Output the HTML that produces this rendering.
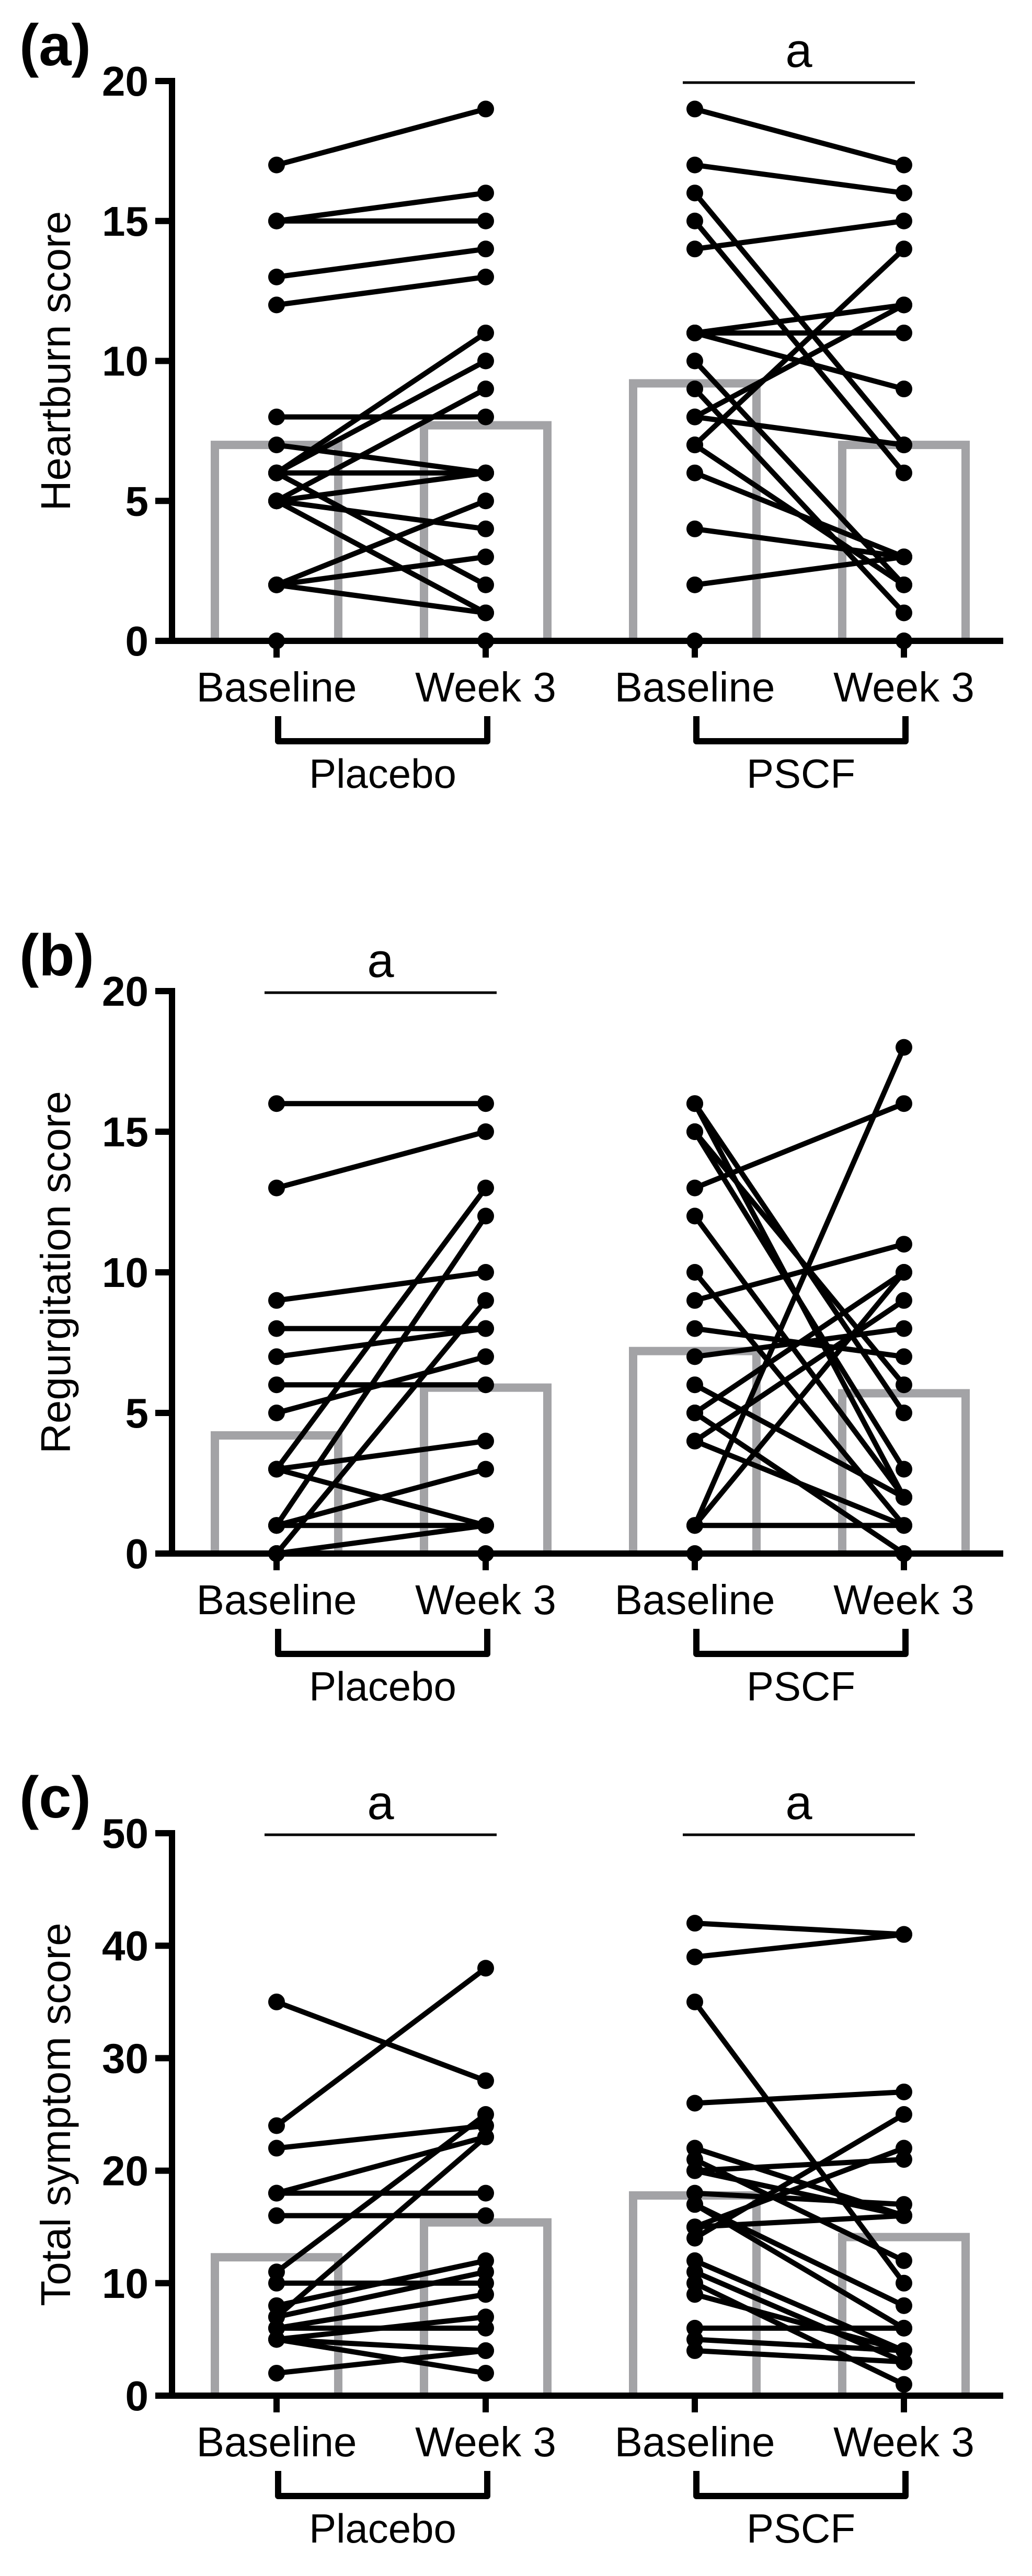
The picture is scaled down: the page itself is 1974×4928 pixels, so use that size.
<!DOCTYPE html>
<html><head><meta charset="utf-8">
<style>
html,body{margin:0;padding:0;background:#fff;}
svg{display:block;}
text{font-family:"Liberation Sans",Arial,sans-serif;fill:#000;}
</style></head>
<body>
<svg id="fig" width="1974" height="4928" viewBox="0 0 1974 4928" xmlns="http://www.w3.org/2000/svg"></svg>
<script>
// ---- data ----
const categories = ["Baseline", "Week 3", "Baseline", "Week 3"];
const groups = ["Placebo", "PSCF"];
const panelLetters = ["(a)", "(b)", "(c)"];
const yTitles = ["Heartburn score", "Regurgitation score", "Total symptom score"];
const yMax = [20, 20, 50];
const yTicksA = [0, 5, 10, 15, 20];
const yTicksB = [0, 5, 10, 15, 20];
const yTicksC = [0, 10, 20, 30, 40, 50];
// bar means [placebo baseline, placebo week3, pscf baseline, pscf week3]
const meansA = [7.0, 7.7, 9.2, 7.0];
const meansB = [4.2, 5.9, 7.2, 5.7];
const meansC = [12.3, 15.4, 17.8, 14.1];
// paired values [baseline, week3]
const placeboA = [[17,19],[15,16],[15,15],[13,14],[12,13],[8,8],[7,6],[6,6],[6,11],[6,10],[5,9],[5,6],[5,4],[6,2],[5,1],[2,5],[2,3],[2,1],[0,0]];
const pscfA = [[19,17],[17,16],[16,7],[15,6],[14,15],[11,12],[11,11],[11,9],[10,2],[9,1],[8,7],[8,12],[7,14],[7,2],[6,3],[4,3],[2,3],[0,0]];
const placeboB = [[16,16],[13,15],[9,10],[8,8],[7,8],[6,6],[5,7],[3,13],[1,12],[0,9],[3,4],[3,1],[1,3],[1,1],[0,1],[0,0]];
const pscfB = [[16,5],[16,2],[15,3],[15,6],[13,16],[12,2],[10,1],[9,11],[8,7],[7,8],[6,2],[5,0],[5,10],[4,1],[4,9],[1,18],[1,10],[1,1],[0,0]];
const placeboC = [[35,28],[24,38],[22,24],[18,23],[18,18],[16,16],[11,25],[7,23],[10,10],[8,12],[7,11],[6,9],[5,7],[6,6],[5,4],[5,2],[2,4]];
const pscfC = [[42,41],[39,41],[35,10],[26,27],[22,16],[21,12],[20,21],[18,17],[17,6],[17,8],[15,22],[14,25],[15,16],[12,4],[11,3],[10,1],[9,4],[6,6],[5,4],[4,3],[20,16]];
const sigA = [false, true];
const sigB = [true, false];
const sigC = [true, true];

// ---- layout ----
const NS = "http://www.w3.org/2000/svg";
const svg = document.getElementById("fig");
const axisX = 329, axisRight = 1919, catX0 = 529, catStep = 400;
const panels = [
  {y0:1226, yTop:155, max:yMax[0], ticks:yTicksA, means:meansA, pl:placeboA, ps:pscfA, sig:sigA},
  {y0:2972, yTop:1896, max:yMax[1], ticks:yTicksB, means:meansB, pl:placeboB, ps:pscfB, sig:sigB},
  {y0:4583, yTop:3507, max:yMax[2], ticks:yTicksC, means:meansC, pl:placeboC, ps:pscfC, sig:sigC}
];
function mk(tag, attrs, parent){
  const e = document.createElementNS(NS, tag);
  for (const k in attrs) e.setAttribute(k, attrs[k]);
  (parent||svg).appendChild(e);
  return e;
}
function xCat(i){ return catX0 + i*catStep; }

panels.forEach((p, pi) => {
  const yS = v => p.y0 - (v / p.max) * (p.y0 - p.yTop);
  const g = mk("g", {});
  
  

  const pl = mk("text", {x:37, y:p.yTop-30, "font-size":112, "font-weight":"bold"}, g);
  pl.textContent = panelLetters[pi];
  
  

  const yc = (p.y0 + p.yTop)/2;
  const yt = mk("text", {transform:`translate(134,${yc}) rotate(-90)`, "text-anchor":"middle", "font-size":80}, g);
  yt.textContent = yTitles[pi];
  
  

  p.means.forEach((m, i) => {
    const y = yS(m);
    const b = mk("path", {d:`M${xCat(i)-118},${p.y0} V${y} H${xCat(i)+118} V${p.y0}`, fill:"none", stroke:"#a3a3a6", "stroke-width":16}, g);
    
    
  });

  const ya = mk("line", {x1:axisX, y1:p.yTop-6, x2:axisX, y2:p.y0+6, stroke:"#000", "stroke-width":12}, g);
  
  
  p.ticks.forEach(t => {
    const y = yS(t);
    const tk = mk("line", {x1:297, y1:y, x2:axisX, y2:y, stroke:"#000", "stroke-width":12}, g);
    
    
    const tl = mk("text", {x:284, y:y+28, "text-anchor":"end", "font-size":80, "font-weight":"bold"}, g);
    tl.textContent = t;
    
    
  });

  const xa = mk("line", {x1:297, y1:p.y0, x2:axisRight, y2:p.y0, stroke:"#000", "stroke-width":12}, g);
  
  
  categories.forEach((c, i) => {
    const tk = mk("line", {x1:xCat(i), y1:p.y0, x2:xCat(i), y2:p.y0+32, stroke:"#000", "stroke-width":12}, g);
    
    
    const tl = mk("text", {x:xCat(i), y:p.y0+116, "text-anchor":"middle", "font-size":80}, g);
    tl.textContent = c;
    
    
  });

  groups.forEach((gn, gi) => {
    const xa1 = xCat(gi*2)+3, xa2 = xCat(gi*2+1)+3;
    const br = mk("path", {d:`M${xa1},${p.y0+144} V${p.y0+192} H${xa2} V${p.y0+144}`, fill:"none", stroke:"#000", "stroke-width":12, "stroke-linejoin":"round"}, g);
    
    
    const gl = mk("text", {x:(xa1+xa2)/2, y:p.y0+281, "text-anchor":"middle", "font-size":78}, g);
    gl.textContent = gn;
    
    
  });

  [p.pl, p.ps].forEach((pairs, gi) => {
    const x1 = xCat(gi*2), x2 = xCat(gi*2+1);
    pairs.forEach(pr => {
      const ln = mk("line", {x1:x1, y1:yS(pr[0]), x2:x2, y2:yS(pr[1]), stroke:"#000", "stroke-width":10}, g);
      
      
    });
    pairs.forEach(pr => {
      const c1 = mk("circle", {cx:x1, cy:yS(pr[0]), r:16, fill:"#000"}, g);
      
      
      const c2 = mk("circle", {cx:x2, cy:yS(pr[1]), r:16, fill:"#000"}, g);
      
      
    });
  });

  p.sig.forEach((s, gi) => {
    if (!s) return;
    const xs = xCat(gi*2) - 23, xe = xCat(gi*2+1) + 21;
    const sy = p.yTop + 3;
    const sl = mk("line", {x1:xs, y1:sy, x2:xe, y2:sy, stroke:"#000", "stroke-width":5}, g);
    
    
    const st = mk("text", {x:(xs+xe)/2, y:sy-30, "text-anchor":"middle", "font-size":92}, g);
    st.textContent = "a";
    
    
  });
});
</script>
</body></html>
